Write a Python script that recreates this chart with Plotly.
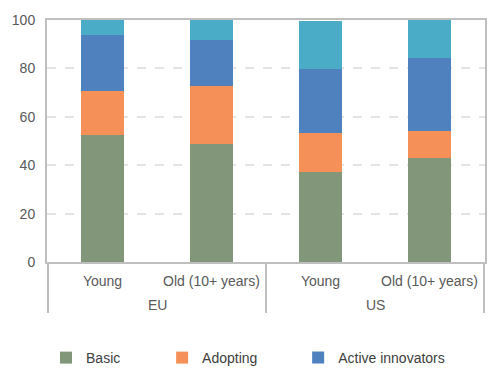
import plotly.graph_objects as go

regions = ["EU", "EU", "US", "US"]
ages = ["Young", "Old (10+ years)", "Young", "Old (10+ years)"]
basic = [52.5, 48.8, 37.2, 43.0]
adopting = [18.2, 23.9, 16.1, 11.1]
active = [23.1, 19.0, 26.5, 30.2]
leading = [6.2, 8.3, 19.8, 15.7]

series = [
    ("Basic", basic, "#82977A", "legend"),
    ("Adopting", adopting, "#F59158", "legend2"),
    ("Active innovators", active, "#4E81BD", "legend3"),
    ("Leading innovators", leading, "#4AACC6", None),
]

keys = [f"{r} | {a}" for r, a in zip(regions, ages)]

fig = go.Figure()
for name, vals, color, leg in series:
    fig.add_trace(go.Bar(
        x=keys, y=vals, name=name, marker_color=color,
        marker_line_width=0, showlegend=leg is not None,
        legend=leg if leg else "legend",
    ))

FONT = "Liberation Sans, Arial, sans-serif"
TXT = "#595959"
FS = 14

# region group labels and dividers
groups = []
for r in regions:
    if r not in groups:
        groups.append(r)
for g in groups:
    idx = [i for i, r in enumerate(regions) if r == g]
    fig.add_annotation(x=sum(idx) / len(idx), xref="x", y=-0.178, yref="paper",
                       text=g, showarrow=False, font=dict(family=FONT, size=FS, color=TXT),
                       yanchor="middle")
bounds = [-0.5] + [i + 0.5 for i in range(len(regions) - 1) if regions[i] != regions[i + 1]] + [len(regions) - 0.5]
for b in bounds:
    fig.add_shape(type="line", xref="x", yref="paper", x0=b, x1=b, y0=0, y1=-0.211,
                  line=dict(color="#BFBFBF", width=2))

leg_common = dict(orientation="h", xanchor="left", xref="container", yref="container",
                  y=0.0765, yanchor="middle", font=dict(size=FS, color="#404040"),
                  itemwidth=30, bgcolor="rgba(0,0,0,0)")

fig.update_layout(
    barmode="stack",
    bargap=0.6,
    width=502, height=379,
    margin=dict(l=39, r=25, t=12, b=125, autoexpand=False),
    plot_bgcolor="white", paper_bgcolor="white",
    font=dict(family=FONT, size=FS, color=TXT),
    legend=dict(x=0.0757, **leg_common),
    legend2=dict(x=0.307, **leg_common),
    legend3=dict(x=0.578, **leg_common),
)
fig.update_xaxes(
    tickvals=keys, ticktext=ages, showline=True, linecolor="#BFBFBF", linewidth=2,
    mirror=True, ticks="", ticklabelstandoff=5,
    tickfont=dict(size=FS, color=TXT),
)
fig.update_yaxes(
    range=[0, 100], tickvals=[0, 20, 40, 60, 80, 100], showline=True,
    linecolor="#BFBFBF", linewidth=2, mirror=True,
    showgrid=True, gridcolor="#E4E4E4", griddash="dash", gridwidth=1.5,
    tickfont=dict(size=FS, color=TXT), ticks="", zeroline=False, ticklabelstandoff=7,
)
fig.write_html("out.html")
